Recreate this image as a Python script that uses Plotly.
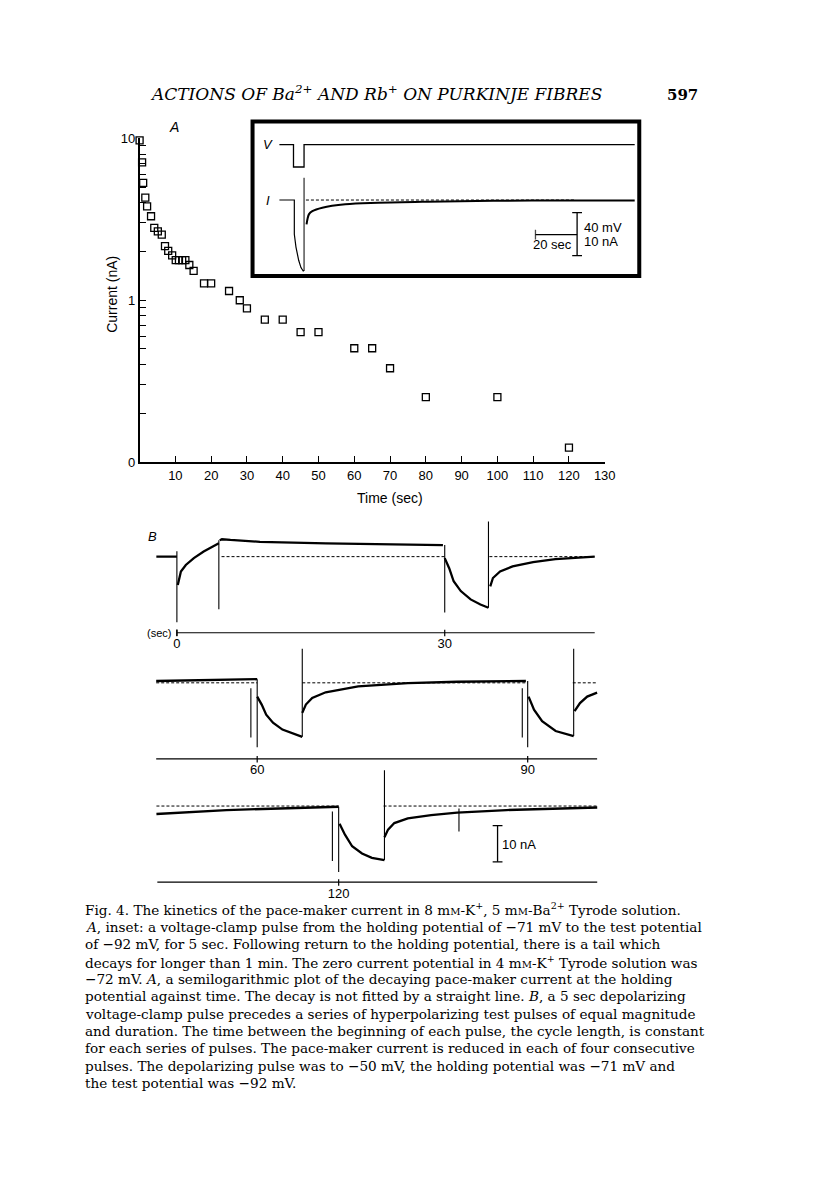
import plotly.graph_objects as go

W, H = 816, 1183

# ---------------- panel A: semilog plot of decaying pace-maker current
a_time = [0, 0.7, 1, 1.6, 2.1, 3.2, 4.1, 5.1, 6.2, 7.1, 8, 9.1, 10.1, 11, 11.9, 12.8, 13.9, 15.1,
          18, 20, 25, 28, 30, 35, 40, 45, 50, 60, 65, 70, 80, 100, 120]
a_current = [9.7, 7.1, 5.3, 4.3, 3.8, 3.3, 2.8, 2.66, 2.54, 2.16, 2.02, 1.89, 1.77, 1.77, 1.77, 1.77,
             1.65, 1.52, 1.27, 1.27, 1.14, 1.0, 0.89, 0.76, 0.76, 0.635, 0.635, 0.505, 0.505, 0.38,
             0.252, 0.252, 0.123]
a_xticks = [10, 20, 30, 40, 50, 60, 70, 80, 90, 100, 110, 120, 130]
a_yticks = [0.1, 1, 10]
a_ylabels = ["0", "1", "10"]
a_yminor = [0.2, 0.3, 0.4, 0.5, 0.6, 0.7, 0.8, 0.9, 2, 3, 4, 5, 6, 7, 8, 9]

# ---------------- inset: voltage (mV) and current (nA) against time (sec)
inset_v_t = [-6.8, 0, 0, 5.1, 5.1, 164.7]
inset_v = [-71, -71, -92, -92, -71, -71]
inset_i_t = [-6.8, 0.4, 0.4, 1.2, 2.5, 3.6, 4.7, 5.1]
inset_i = [0, 0, -8.0, -11.0, -14.1, -15.8, -16.6, -16.5]
inset_spike_t = [5.1, 5.1]
inset_spike_i = [-16.6, 5.2]
inset_tail_t = [6.3, 7.5, 9.1, 13.9, 25, 40.9, 64.7, 96.4, 136, 164.7]
inset_tail_i = [-5.7, -3.3, -2.6, -1.8, -1.0, -0.65, -0.4, -0.2, -0.1, -0.1]
inset_dash_t = [6, 136]

# ---------------- panel B: three consecutive strips of current (nA from holding) vs time (sec)
row1_t = [-2.3, 0, None,
          0.1, 0.45, 1.0, 1.9, 3.0, 4.1, 4.7, None,
          4.8, 5.05, 6, 9.3, 16.7, 24, 29.8, None,
          30, 30.5, 31.0, 31.8, 32.9, 34.0, 34.9, None,
          35.1, 35.4, 36.2, 37.6, 39.9, 42.4, 46.8]
row1_i = [0, 0, None,
          -7.8, -4.1, -2.3, -0.4, 1.4, 3.0, 3.7, None,
          4.5, 4.8, 4.6, 4.1, 3.65, 3.4, 3.2, None,
          -0.4, -3.2, -6.8, -9.5, -11.8, -13.2, -14.1, None,
          -8.2, -5.9, -4.1, -2.7, -1.5, -0.7, 0]
row1_spike_t = [0, 4.7, 30, 34.9]
row1_spike_top = [1.5, 4.5, 3.2, 9.7]
row1_spike_bottom = [-18.1, -14.5, -15.4, -14.1]
row1_dash_t = [5, 30, None, 35, 46.8]
row1_ticks = [0, 30]
row1_axis_t = [0, 46.8]

row2_t = [48.8, 54, 60, None,
          60, 60.5, 61.0, 61.75, 62.8, 63.9, 65.0, None,
          65.0, 65.4, 66.1, 67.6, 71.2, 76.7, 82.2, 89.8, None,
          90.1, 90.7, 91.6, 93.1, 95.1, None,
          95.2, 95.8, 96.6, 97.7]
row2_i = [0.5, 0.7, 1.0, None,
          -3.8, -6.0, -8.8, -11.0, -12.9, -14.0, -14.9, None,
          -8.3, -6.0, -4.2, -2.6, -1.0, -0.1, 0.3, 0.5, None,
          -3.8, -7.4, -10.6, -13.3, -14.7, None,
          -7.8, -5.6, -3.8, -2.7]
row2_spike_t = [59.3, 60, 65, 89.4, 90, 95.1]
row2_spike_top = [-1.5, 1.0, 9.4, -1.5, 0.5, 9.4]
row2_spike_bottom = [-15.1, -17.8, -14.9, -15.1, -17.8, -14.7]
row2_dash_t = [48.8, 60, None, 65, 90, None, 95, 97.7]
row2_ticks = [60, 90]
row2_axis_t = [48.8, 97.7]

row3_t = [99.7, 107.5, 120, None,
          120.1, 120.7, 121.5, 122.6, 123.7, 125.1, None,
          125.1, 125.5, 126.2, 127.7, 130.3, 133.2, 138.7, 144.2, 148.8]
row3_i = [-2.2, -1.1, -0.2, None,
          -4.9, -7.9, -11.1, -13.1, -14.3, -14.9, None,
          -8.6, -6.5, -4.7, -3.4, -2.5, -1.8, -1.1, -0.7, -0.4]
row3_spike_t = [119.3, 120, 125.1, 133.4]
row3_spike_top = [-1.5, -0.2, 9.9, -0.7]
row3_spike_bottom = [-15.2, -18.2, -14.9, -7.0]
row3_dash_t = [99.7, 120, None, 125, 148.8]
row3_ticks = [120]
row3_axis_t = [99.8, 148.8]

scale_b_t = [137.7, 137.7]
scale_b_i = [-5.4, -15.4]


def px(x):
    return x / W


def py(y):
    return 1 - y / H


def xrange_(lo, hi, p_ref, v_ref, ppu):
    return [v_ref + (lo - p_ref) / ppu, v_ref + (hi - p_ref) / ppu]


def yrange_(top, bottom, p_ref, v_ref, ppu):
    return [v_ref - (bottom - p_ref) / ppu, v_ref - (top - p_ref) / ppu]


def spikes(ts, tops, bottoms):
    xs, ys = [], []
    for t, a, b in zip(ts, tops, bottoms):
        xs += [t, t, None]
        ys += [a, b, None]
    return xs, ys


SANS = "Liberation Sans"
SERIF = "DejaVu Serif"
BLACK = "black"
AXIS_LEVEL = -21
LABEL_DROP = 3.4  # nA below the time axis for its tick labels

fig = go.Figure()

# panel A
fig.add_trace(go.Scatter(x=a_time, y=a_current, mode="markers", cliponaxis=False,
                         marker=dict(symbol="square-open", size=7, color=BLACK,
                                     line=dict(width=1.3, color=BLACK)),
                         xaxis="x", yaxis="y"))

# inset
fig.add_trace(go.Scatter(x=inset_v_t, y=inset_v, mode="lines", line=dict(color=BLACK, width=1.3),
                         xaxis="x2", yaxis="y2"))
fig.add_trace(go.Scatter(x=inset_i_t, y=inset_i, mode="lines", line=dict(color=BLACK, width=1.2),
                         xaxis="x2", yaxis="y3"))
fig.add_trace(go.Scatter(x=inset_spike_t, y=inset_spike_i, mode="lines", line=dict(color=BLACK, width=1),
                         xaxis="x2", yaxis="y3"))
fig.add_trace(go.Scatter(x=inset_tail_t, y=inset_tail_i, mode="lines",
                         line=dict(color=BLACK, width=2, shape="spline"),
                         xaxis="x2", yaxis="y3"))
fig.add_trace(go.Scatter(x=inset_dash_t, y=[0, 0], mode="lines",
                         line=dict(color=BLACK, width=1, dash="3px,2px"),
                         xaxis="x2", yaxis="y3"))
# inset scale bars (20 sec / 40 mV, 10 nA)
fig.add_trace(go.Scatter(x=[136.9, 136.9], y=[-2.96, -13.0], mode="lines+markers",
                         line=dict(color=BLACK, width=1.3),
                         marker=dict(symbol="line-ew", size=7, line=dict(width=1.3, color=BLACK)),
                         xaxis="x2", yaxis="y3"))
fig.add_trace(go.Scatter(x=[116.8, 136.9], y=[-8.1, -8.1], mode="lines+markers",
                         line=dict(color=BLACK, width=1.3),
                         marker=dict(symbol=["line-ns", "line-ns"], size=[7, 0],
                                     line=dict(width=1.3, color=BLACK)),
                         xaxis="x2", yaxis="y3"))

# panel B rows
rows = [
    dict(t=row1_t, i=row1_i, st=row1_spike_t, sa=row1_spike_top, sb=row1_spike_bottom,
         dash=row1_dash_t, ticks=row1_ticks, axis=row1_axis_t),
    dict(t=row2_t, i=row2_i, st=row2_spike_t, sa=row2_spike_top, sb=row2_spike_bottom,
         dash=row2_dash_t, ticks=row2_ticks, axis=row2_axis_t),
    dict(t=row3_t, i=row3_i, st=row3_spike_t, sa=row3_spike_top, sb=row3_spike_bottom,
         dash=row3_dash_t, ticks=row3_ticks, axis=row3_axis_t),
]
# pixel calibration of each strip: (x px of t_ref, t_ref, px per sec, y px of 0 nA, top, bottom)
row_geom = [(179.3, 0, 9.05, 556.7, 508, 662),
            (260.7, 60, 9.14, 684.5, 636, 790),
            (343.3, 120, 9.1, 809.3, 762, 914)]
row_axes = [("x3", "y4"), ("x4", "y5"), ("x5", "y6")]

for r, (xa, ya) in zip(rows, row_axes):
    fig.add_trace(go.Scatter(x=r["t"], y=r["i"], mode="lines", line=dict(color=BLACK, width=2.3),
                             xaxis=xa, yaxis=ya))
    sx, sy = spikes(r["st"], r["sa"], r["sb"])
    fig.add_trace(go.Scatter(x=sx, y=sy, mode="lines", line=dict(color=BLACK, width=1.1),
                             xaxis=xa, yaxis=ya))
    fig.add_trace(go.Scatter(x=r["dash"], y=[None if t is None else 0 for t in r["dash"]],
                             mode="lines", line=dict(color=BLACK, width=1, dash="3px,2px"),
                             xaxis=xa, yaxis=ya))
    # time axis with crossing ticks
    fig.add_trace(go.Scatter(x=r["axis"], y=[AXIS_LEVEL] * 2, mode="lines",
                             line=dict(color=BLACK, width=1.2), xaxis=xa, yaxis=ya))
    tx, ty = spikes(r["ticks"], [AXIS_LEVEL + 0.8] * len(r["ticks"]),
                    [AXIS_LEVEL - 1.0] * len(r["ticks"]))
    fig.add_trace(go.Scatter(x=tx, y=ty, mode="lines", line=dict(color=BLACK, width=1.2),
                             xaxis=xa, yaxis=ya))
    fig.add_trace(go.Scatter(x=r["ticks"], y=[AXIS_LEVEL - LABEL_DROP] * len(r["ticks"]),
                             mode="text", text=[str(t) for t in r["ticks"]],
                             textposition="middle center",
                             textfont=dict(family=SANS, size=13, color=BLACK),
                             cliponaxis=False, xaxis=xa, yaxis=ya))

# row 1 time axis left end cap
fig.add_trace(go.Scatter(x=[0, 0], y=[AXIS_LEVEL + 0.9, AXIS_LEVEL - 0.9], mode="lines",
                         line=dict(color=BLACK, width=1.2), xaxis="x3", yaxis="y4"))
# row 3 scale bar
fig.add_trace(go.Scatter(x=scale_b_t, y=scale_b_i, mode="lines+markers",
                         line=dict(color=BLACK, width=1.3),
                         marker=dict(symbol="line-ew", size=7, line=dict(width=1.3, color=BLACK)),
                         xaxis="x5", yaxis="y6"))

hidden = dict(visible=False, showgrid=False, zeroline=False)
layout_axes = {}
for (xa, ya), g in zip(row_axes, row_geom):
    x_ref, t_ref, ppu, y0, top, bottom = g
    layout_axes["xaxis" + xa[1:]] = dict(hidden, domain=[px(150), px(612)], anchor=ya,
                                         range=xrange_(150, 612, x_ref, t_ref, ppu))
    layout_axes["yaxis" + ya[1:]] = dict(hidden, domain=[py(bottom), py(top)], anchor=xa,
                                         range=yrange_(top, bottom, y0, 0, 3.67))

tick_font = dict(family=SANS, size=13, color=BLACK)
fig.update_layout(
    width=W, height=H, margin=dict(l=0, r=0, t=0, b=0),
    paper_bgcolor="white", plot_bgcolor="rgba(0,0,0,0)", showlegend=False,
    font=dict(family=SANS, color=BLACK),
    xaxis=dict(domain=[px(141.5), px(613)], range=[0, 130], anchor="y",
               showline=True, linecolor=BLACK, linewidth=1.5, ticks="inside", ticklen=6,
               tickwidth=1.3, tickcolor=BLACK, tickvals=a_xticks, tickfont=tick_font,
               showgrid=False, zeroline=False),
    yaxis=dict(domain=[py(461), py(133)], type="log", range=[-1, 1], anchor="x",
               showline=True, linecolor=BLACK, linewidth=1.5, ticks="inside", ticklen=7,
               tickwidth=1.3, tickcolor=BLACK, tickvals=a_yticks, ticktext=a_ylabels,
               minor=dict(tickvals=a_yminor, ticks="inside", ticklen=7, tickwidth=1.3,
                          tickcolor=BLACK, showgrid=False),
               tickfont=tick_font, showgrid=False, zeroline=False),
    xaxis2=dict(hidden, domain=[px(258), px(646)], anchor="y2",
                range=xrange_(258, 646, 297.5, 0, 2.1)),
    yaxis2=dict(hidden, domain=[py(272), py(118)], anchor="x2",
                range=yrange_(118, 272, 139.3, -71, 1.083)),
    yaxis3=dict(hidden, overlaying="y2", anchor="x2",
                range=yrange_(118, 272, 195.5, 0, 4.33)),
    **layout_axes,
)

# inset frame
fig.add_shape(type="rect", xref="paper", yref="paper", x0=px(256), x1=px(648),
              y0=py(272.5), y1=py(116), line=dict(color=BLACK, width=4))


def label(text, x, y, size=13, family=SANS, xanchor="center", angle=0):
    fig.add_annotation(text=text, x=px(x), y=py(y), xref="paper", yref="paper",
                       showarrow=False, xanchor=xanchor, yanchor="middle", textangle=angle,
                       font=dict(family=family, size=size, color=BLACK))


label("<i>ACTIONS OF Ba<sup>2+</sup> AND Rb<sup>+</sup> ON PURKINJE FIBRES</i>", 381, 87,
      size=17, family=SERIF)
label("<b>597</b>", 692, 89, size=15, family=SERIF)
label("<i>A</i>", 176, 122, size=14)
label("Current (nA)", 114, 291, size=14, angle=-90)
label("Time (sec)", 395, 497, size=14)
label("<i>V</i>", 272, 139)
label("<i>I</i>", 272, 196)
label("40 mV", 590, 223, xanchor="left")
label("10 nA", 590, 238, xanchor="left")
label("20 sec", 582, 241, xanchor="right")
label("<i>B</i>", 155, 536)
label("(sec)", 175, 634, size=11, xanchor="right")
label("10 nA", 507, 848, xanchor="left")

MM = "m<span style='font-size:10px'>M</span>"
caption = [
    f"Fig. 4. The kinetics of the pace-maker current in 8 {MM}-K<sup>+</sup>, 5 {MM}-Ba<sup>2+</sup> Tyrode solution.",
    "<i>A</i>, inset: a voltage-clamp pulse from the holding potential of −71 mV to the test potential",
    "of −92 mV, for 5 sec. Following return to the holding potential, there is a tail which",
    f"decays for longer than 1 min. The zero current potential in 4 {MM}-K<sup>+</sup> Tyrode solution was",
    "−72 mV. <i>A</i>, a semilogarithmic plot of the decaying pace-maker current at the holding",
    "potential against time. The decay is not fitted by a straight line. <i>B</i>, a 5 sec depolarizing",
    "voltage-clamp pulse precedes a series of hyperpolarizing test pulses of equal magnitude",
    "and duration. The time between the beginning of each pulse, the cycle length, is constant",
    "for each series of pulses. The pace-maker current is reduced in each of four consecutive",
    "pulses. The depolarizing pulse was to −50 mV, the holding potential was −71 mV and",
    "the test potential was −92 mV.",
]
for n, line in enumerate(caption):
    label(line, 84, 914 + 17.6 * n, size=13.6, family=SERIF, xanchor="left")

# the page body otherwise adds an 8px margin around the fixed-size figure
fig.write_html("out.html", config={"displayModeBar": False},
               post_script="document.body.style.margin='0';")
